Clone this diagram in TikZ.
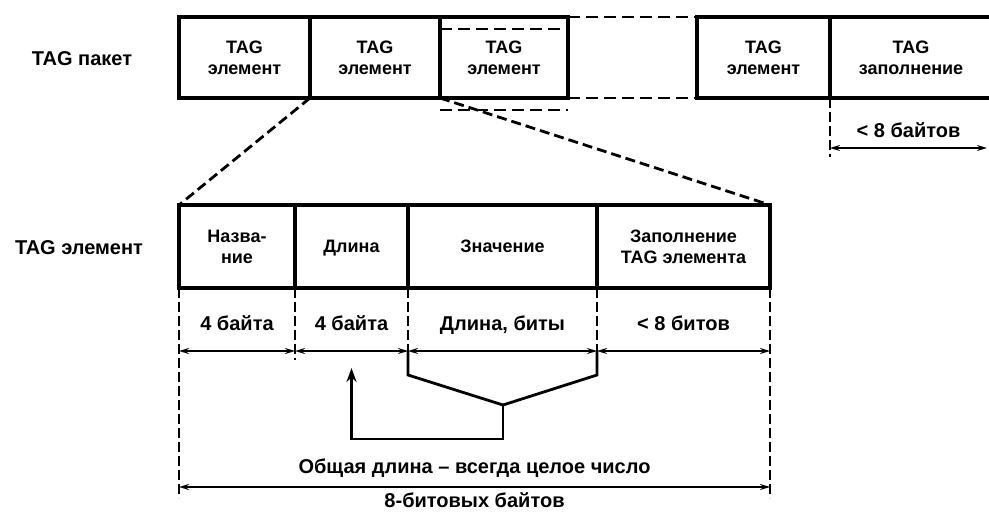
\documentclass[tikz,border=0pt]{standalone}
\usepackage{fontspec}
\setmainfont{Liberation Sans}
\usetikzlibrary{arrows.meta, positioning, calc}
\tikzset{
	cell/.style   ={rectangle, draw=black, line width=2.2pt, outer sep=0pt, inner sep=1pt, align=center, minimum height=40.5pt, font=\bfseries\fontsize{9}{10.5}\selectfont},
	fld/.style    ={cell, minimum height=41.5pt},
	lbl/.style    ={font=\bfseries\fontsize{10}{12}\selectfont},
	dlbl/.style   ={lbl, text height=1.6ex, text depth=0.3ex},
	% dimension styles
	dim/.style    ={{Stealth[length=5pt, width=3pt]}-{Stealth[length=5pt, width=3pt]}, line width=0.8pt},
	ext/.style    ={line width=0.9pt, dash pattern=on 5pt off 2pt},
	dashline/.style={line width=1.4pt, dash pattern=on 6pt off 3pt},
	zoomline/.style={line width=1.4pt, dash pattern=on 5pt off 2.5pt},
	brk/.style    ={line width=1.4pt},
}
\begin{document}
\begin{tikzpicture}[x=0.5pt, y=-0.5pt, node distance=0pt]
	\useasboundingbox (0,0) rectangle (989,512);
	% TAG packet
	\node[lbl] (pktlbl) at (82,59) {TAG пакет};
	\node[cell, minimum width=65.5pt] (p1) at (244.5,57.5) {TAG\\элемент};
	\node[cell, minimum width=65pt, right=of p1] (p2) {TAG\\элемент};
	\node[cell, minimum width=64pt, right=of p2] (p3) {TAG\\элемент};
	\node[cell, minimum width=66.5pt, right=64.5pt of p3] (p5) {TAG\\элемент};
	\node[cell, minimum width=81pt, right=of p5] (p6) {TAG\\заполнение};
	\draw[dashline] (p3.north east) -- (p5.north west);
	\draw[dashline] (p3.south east) -- (p5.south west);
	\draw[dashline] ($(p3.north west)+(0,12)$) -- ($(p3.north east)+(0,12)$);
	\draw[dashline] ($(p3.south west)+(0,12)$) -- ($(p3.south east)+(0,12)$);
	% padding size
	\draw[ext] (p6.south west) -- ++(0,59);
	\coordinate (q0) at ($(p6.south west)+(0,50)$);
	\coordinate (q1) at (987,148);
	\draw[dim] (q0) -- (q1) node[midway, above=0pt, dlbl] {< 8 байтов};
	% TAG element
	\node[lbl] (elmlbl) at (79,248) {TAG элемент};
	\node[fld, minimum width=58pt] (e1) at (237,246.5) {Назва-\\ние};
	\node[fld, minimum width=56.5pt, right=of e1, text depth=0pt] (e2) {Длина};
	\node[fld, minimum width=94.5pt, right=of e2] (e3) {Значение};
	\node[fld, minimum width=86.5pt, right=of e3] (e4) {Заполнение\\TAG элемента};
	\draw[zoomline] (p2.south west) -- (e1.north west);
	\draw[zoomline] (p3.south west) -- (e4.north east);
	% field sizes
	\coordinate (a0) at ($(e1.south west)+(0,63)$);
	\coordinate (a1) at ($(e2.south west)+(0,63)$);
	\coordinate (a2) at ($(e3.south west)+(0,63)$);
	\coordinate (a3) at ($(e4.south west)+(0,63)$);
	\coordinate (a4) at ($(e4.south east)+(0,63)$);
	\draw[ext] (e1.south west) -- ++(0,210);
	\draw[ext] (e2.south west) -- ++(0,72);
	\draw[ext] (e3.south west) -- ++(0,72);
	\draw[ext] (e4.south west) -- ++(0,72);
	\draw[ext] (e4.south east) -- ++(0,210);
	\draw[dim] (a0) -- (a1) node[midway, above=5pt, dlbl] {4 байта};
	\draw[dim] (a1) -- (a2) node[midway, above=5pt, dlbl] {4 байта};
	\draw[dim] (a2) -- (a3) node[midway, above=5pt, dlbl] {Длина, биты};
	\draw[dim] (a3) -- (a4) node[midway, above=5pt, dlbl] {< 8 битов};
	% value length goes to length field
	\coordinate (apex) at (503,405);
	\draw[brk] (a2) -- ++(0,24) -- (apex);
	\draw[brk] (a3) -- ++(0,24) -- (apex);
	\draw[brk, -{Stealth[length=7pt, width=5pt]}] (apex) -- ++(0,34) -| ($(e2.south)+(0,80)$);
	% total length
	\coordinate (t0) at ($(e1.south west)+(0,199)$);
	\coordinate (t1) at ($(e4.south east)+(0,199)$);
	\draw[dim, line width=1.4pt] (t0) -- (t1)
		node[midway, above=1pt, dlbl] {Общая длина -- всегда целое число}
		node[midway, below=-2pt, dlbl] {8-битовых байтов};
\end{tikzpicture}
\end{document}
